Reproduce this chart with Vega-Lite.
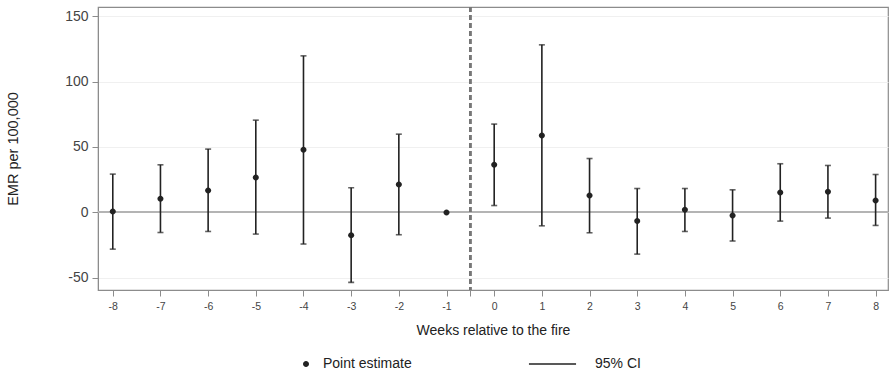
{
  "$schema": "https://vega.github.io/schema/vega-lite/v6.json",
  "autosize": {"type": "none"},
  "padding": {"left": 98, "top": 7, "right": 2, "bottom": 85},
  "width": 790,
  "height": 283,
  "background": "white",
  "config": {
    "font": "Liberation Sans",
    "view": {"stroke": "#8c8c8c", "strokeWidth": 1.2},
    "axis": {"domainColor": "#8c8c8c", "tickColor": "#8c8c8c", "labelColor": "#444", "titleColor": "#222", "titleFontWeight": "normal", "gridColor": "#f0f0f0"}
  },
  "data": {
    "values": [
      {"week": -8, "est": 0.8, "lo": -28.0, "hi": 29.3},
      {"week": -7, "est": 10.5, "lo": -15.3, "hi": 36.4},
      {"week": -6, "est": 16.8, "lo": -14.5, "hi": 48.4},
      {"week": -5, "est": 26.7, "lo": -16.5, "hi": 70.5},
      {"week": -4, "est": 47.9, "lo": -24.1, "hi": 119.6},
      {"week": -3, "est": -17.3, "lo": -53.4, "hi": 18.9},
      {"week": -2, "est": 21.4, "lo": -17.0, "hi": 59.8},
      {"week": -1, "est": 0.0, "lo": null, "hi": null},
      {"week": 0, "est": 36.4, "lo": 5.3, "hi": 67.5},
      {"week": 1, "est": 58.8, "lo": -10.2, "hi": 128.0},
      {"week": 2, "est": 13.0, "lo": -15.5, "hi": 41.2},
      {"week": 3, "est": -6.6, "lo": -31.8, "hi": 18.3},
      {"week": 4, "est": 2.1, "lo": -14.5, "hi": 18.3},
      {"week": 5, "est": -2.3, "lo": -21.8, "hi": 17.3},
      {"week": 6, "est": 15.3, "lo": -6.6, "hi": 37.2},
      {"week": 7, "est": 15.8, "lo": -4.3, "hi": 35.9},
      {"week": 8, "est": 9.2, "lo": -9.9, "hi": 29.0}
    ]
  },
  "encoding": {
    "x": {
      "field": "week", "type": "quantitative",
      "scale": {"domain": [-8.31, 8.26], "nice": false, "zero": false},
      "axis": {
        "values": [-8, -7, -6, -5, -4, -3, -2, -1, -0.5, 0, 1, 2, 3, 4, 5, 6, 7, 8],
        "labelExpr": "datum.value == -0.5 ? '' : '' + datum.value",
        "title": "Weeks relative to the fire",
        "titleFontSize": 14, "titlePadding": 12,
        "labelFontSize": 10.5, "labelPadding": 5,
        "tickSize": 6, "grid": false
      }
    }
  },
  "layer": [
    {
      "mark": {"type": "rule", "color": "#b4b4b4", "strokeWidth": 1.2},
      "encoding": {"y": {"datum": 0, "type": "quantitative"}, "x": null}
    },
    {
      "mark": {"type": "rule", "color": "#777", "strokeWidth": 1.5, "strokeDash": [5, 3]},
      "encoding": {"x": {"datum": -0.5, "type": "quantitative"}}
    },
    {
      "transform": [{"filter": "datum.lo != null"}],
      "mark": {"type": "rule", "color": "#222", "strokeWidth": 1.6},
      "encoding": {
        "y": {"field": "lo", "type": "quantitative"},
        "y2": {"field": "hi"}
      }
    },
    {
      "transform": [{"filter": "datum.lo != null"}],
      "mark": {"type": "tick", "color": "#222", "orient": "horizontal", "size": 6, "thickness": 1.6},
      "encoding": {"y": {"field": "lo", "type": "quantitative"}}
    },
    {
      "transform": [{"filter": "datum.lo != null"}],
      "mark": {"type": "tick", "color": "#222", "orient": "horizontal", "size": 6, "thickness": 1.6},
      "encoding": {"y": {"field": "hi", "type": "quantitative"}}
    },
    {
      "mark": {"type": "point", "filled": true, "color": "#222", "size": 900, "opacity": 1},
      "encoding": {
        "y": {
          "field": "est", "type": "quantitative",
          "scale": {"domain": [-59.2, 156.9], "nice": false, "zero": false},
          "axis": {
            "values": [-50, 0, 50, 100, 150],
            "labelExpr": "'' + datum.value",
            "title": "EMR per 100,000",
            "titleFontSize": 14.5, "titlePadding": 44,
            "labelFontSize": 14, "labelPadding": 4,
            "tickSize": 6, "grid": true
          }
        },
        "shape": {
          "datum": "Point estimate",
          "scale": {
            "domain": ["Point estimate", "95% CI"],
            "range": ["M-0.2,0A0.2,0.2 0 1,0 0.2,0A0.2,0.2 0 1,0 -0.2,0Z", "M-3.27,-0.05L-0.13,-0.05L-0.13,0.05L-3.27,0.05Z"]
          },
          "legend": {
            "title": null,
            "orient": "none",
            "legendX": 192,
            "legendY": 341,
            "direction": "horizontal",
            "columns": 2,
            "columnPadding": 113,
            "symbolSize": 900,
            "labelFontSize": 14,
            "labelColor": "#222",
            "labelOffset": 1,
            "encode": {
              "symbols": {
                "update": {
                  "fill": {"value": "#222"},
                  "opacity": {"value": 1}
                }
              }
            }
          }
        }
      }
    }
  ]
}
